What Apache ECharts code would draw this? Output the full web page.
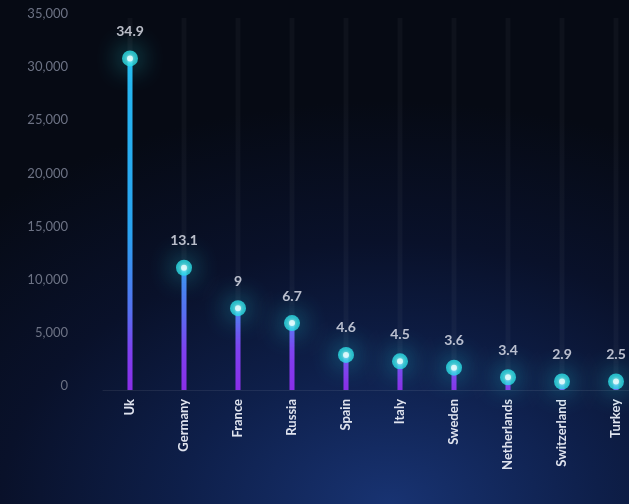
<!DOCTYPE html>
<html>
<head>
<meta charset="utf-8">
<script src="https://cdn.jsdelivr.net/npm/echarts@6/dist/echarts.min.js"></script>
<style>
  html, body { margin: 0; padding: 0; }
  #main {
    width: 629px; height: 504px;
    background: radial-gradient(ellipse 95% 80% at 62% 100%, #183372 0%, #0e1f4a 35%, #09112a 65%, #060a14 100%);
  }
</style>
</head>
<body>
<div id="main"></div>
<script>
var countries = ['Uk', 'Germany', 'France', 'Russia', 'Spain', 'Italy', 'Sweden', 'Netherlands', 'Switzerland', 'Turkey'];
var values = [31200, 11500, 7700, 6300, 3300, 2700, 2100, 1200, 800, 800];
var labels = ['34.9', '13.1', '9', '6.7', '4.6', '4.5', '3.6', '3.4', '2.9', '2.5'];

var stem = {
  type: 'linear', x: 0, y: 0, x2: 0, y2: 390, global: true,
  colorStops: [
    { offset: 0, color: '#22c0f0' },
    { offset: 0.6, color: '#2aa2f0' },
    { offset: 0.8, color: '#5670f0' },
    { offset: 0.9, color: '#7f40f0' },
    { offset: 1, color: '#8a2ee8' }
  ]
};

var option = {
  backgroundColor: 'transparent',
  grid: {
    left: 103,
    width: 540,
    top: 18,
    bottom: 114,
    outerBoundsMode: 'none'
  },
  xAxis: {
    type: 'category',
    data: countries,
    axisTick: { show: false },
    axisLine: { lineStyle: { color: 'rgba(255,255,255,0.08)' } },
    axisLabel: {
      rotate: 90,
      margin: 9,
      color: '#dfe3ee',
      fontFamily: 'Lato',
      fontWeight: 'bold',
      fontSize: 13
    }
  },
  yAxis: {
    type: 'value',
    min: 0,
    max: 35000,
    interval: 5000,
    splitLine: { show: false },
    axisLine: { show: false },
    axisTick: { show: false },
    axisLabel: {
      margin: 35,
      color: '#6c7284',
      fontFamily: 'Lato',
      fontSize: 13,
      verticalAlign: 'bottom',
      lineHeight: 8,
      formatter: function (v) {
        return v.toString().replace(/\B(?=(\d{3})+(?!\d))/g, ',');
      }
    }
  },
  series: [
    {
      // stems
      type: 'bar',
      data: values,
      barWidth: 5,
      showBackground: true,
      backgroundStyle: { color: 'rgba(255,255,255,0.035)' },
      itemStyle: { color: stem },
      silent: true
    },
    {
      // glow dots
      type: 'scatter',
      data: values,
      symbolSize: 16,
      itemStyle: {
        color: '#2adfe6',
        shadowBlur: 26,
        shadowColor: 'rgba(40,235,245,1)'
      },
      label: {
        show: true,
        position: 'top',
        distance: 12,
        color: '#e6e9f2',
        fontFamily: 'Lato',
        fontWeight: 'bold',
        fontSize: 14,
        formatter: function (p) { return labels[p.dataIndex]; }
      },
      z: 3
    },
    {
      // bright centers
      type: 'scatter',
      data: values,
      symbolSize: 6,
      itemStyle: { color: '#f0ffff', shadowBlur: 4, shadowColor: '#ffffff' },
      z: 4
    }
  ]
};

echarts.init(document.getElementById('main')).setOption(option);
</script>
</body>
</html>
